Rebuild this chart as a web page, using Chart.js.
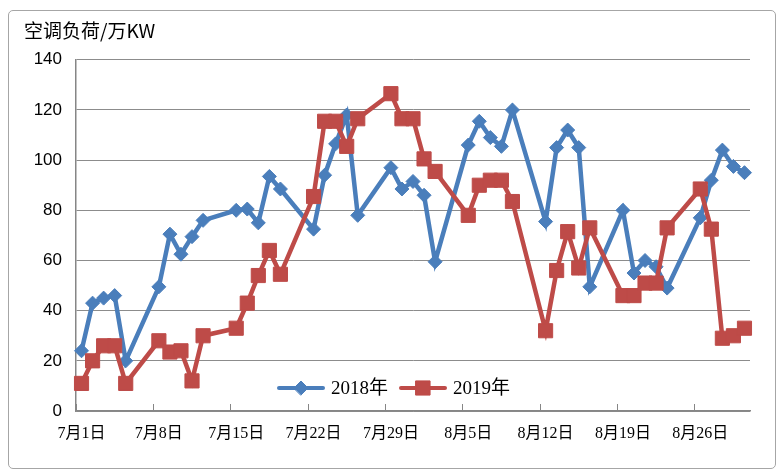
<!DOCTYPE html>
<html>
<head>
<meta charset="utf-8">
<script src="https://cdn.jsdelivr.net/npm/chart.js@4.4.1/dist/chart.umd.min.js"></script>
<style>
body { margin: 0; background: #fff; }
#box { position: absolute; left: 8px; top: 10px; width: 766px; height: 457px; border: 1px solid #a6a6a6; border-radius: 5px; }
</style>
</head>
<body>
<div id="box"><canvas id="loadChart"></canvas></div>
<script>
// 7月1日 .. 8月30日
const days = [];
for (let d = 1; d <= 31; d++) days.push('7月' + d + '日');
for (let d = 1; d <= 30; d++) days.push('8月' + d + '日');

// weekends have no reading (null)
const load2018 = [24, 43, 45, 46, 20, null, null,
    49.5, 70.5, 62.5, 69.5, 76, null, null,
    80, 80.5, 75, 93.5, 88.5, null, null,
    72.5, 94, 106.5, 118, 78, null, null,
    97, 88.5, 91.5, 86, 59.5, null, null,
    106, 115.5, 109, 105.5, 120, null, null,
    75.5, 105, 112, 105, 49.5, null, null,
    80, 55, 60, 57.5, 49, null, null,
    77, 92, 104, 97.5, 95];
const load2019 = [11, 20, 26, 26, 11, null, null,
    28, 23.5, 24, 12, 30, null, null,
    33, 43, 54, 64, 54.5, null, null,
    85.5, 115.5, 115.5, 105.5, 116.5, null, null,
    126.5, 116.5, 116.5, 100.5, 95.5, null, null,
    78, 90, 92, 92, 83.5, null, null,
    32, 56, 71.5, 57, 73, null, null,
    46, 46, 51, 51, 73, null, null,
    88.5, 72.5, 29, 30, 33];
const seriesNames = ['2018年', '2019年'];
const yMax = 140;
const yStep = 20;
const labelEvery = 7;

const blue = '#4a7ebb';
const red = '#be4b48';
const axisGray = '#868686';

// legend sits inside the plot, near the bottom
const legendInside = {
    id: 'legendInside',
    afterDraw(chart) {
        const ctx = chart.ctx;
        const area = chart.chartArea;
        let x = area.left + 203;
        const y = area.bottom - 23;
        ctx.save();
        ctx.font = '19px "Liberation Serif", "Noto Sans CJK SC"';
        ctx.textBaseline = 'middle';
        chart.data.datasets.forEach(ds => {
            ctx.strokeStyle = ds.borderColor;
            ctx.lineWidth = 4;
            ctx.lineCap = 'round';
            ctx.beginPath();
            ctx.moveTo(x, y);
            ctx.lineTo(x + 44, y);
            ctx.stroke();
            ctx.fillStyle = ds.pointBackgroundColor;
            ctx.strokeStyle = ds.pointBorderColor;
            ctx.lineWidth = 1;
            Chart.helpers.drawPoint(ctx, {pointStyle: ds.pointStyle, radius: ds.pointRadius, borderWidth: 1, rotation: 0}, x + 22, y);
            ctx.fillStyle = '#000';
            ctx.fillText(ds.label, x + 52, y + 1);
            x += 52 + ctx.measureText(ds.label).width + 13;
        });
        ctx.restore();
    }
};

const config = {
    type: 'line',
    data: {
        labels: days,
        datasets: [{
            label: seriesNames[0],
            data: load2018,
            borderColor: blue,
            borderWidth: 4.5,
            pointStyle: 'rectRot',
            pointRadius: 7,
            pointBackgroundColor: blue,
            pointBorderColor: blue,
            pointBorderWidth: 1,
            spanGaps: true,
            order: 1
        }, {
            label: seriesNames[1],
            data: load2019,
            borderColor: red,
            borderWidth: 4.5,
            pointStyle: 'rect',
            pointRadius: 10,
            pointBackgroundColor: red,
            pointBorderColor: red,
            pointBorderWidth: 1,
            spanGaps: true,
            order: 0
        }]
    },
    options: {
        responsive: true,
        maintainAspectRatio: false,
        animation: false,
        layout: { padding: { left: 15, right: 25, top: 0, bottom: 0 } },
        plugins: {
            legend: { display: false },
            tooltip: { enabled: false },
            title: {
                display: true,
                text: '空调负荷/万KW',
                align: 'start',
                color: '#000',
                font: { family: '"Noto Sans CJK SC"', size: 19, weight: 'normal' },
                padding: { top: 8, bottom: 18 }
            }
        },
        scales: {
            x: {
                offset: true,
                afterFit(scale) { scale.height = 57; },
                grid: {
                    offset: true,
                    drawOnChartArea: false,
                    drawTicks: true,
                    tickLength: -7,
                    tickWidth: 1,
                    tickColor: ctx => ctx.index % labelEvery === 0 ? axisGray : 'rgba(0,0,0,0)'
                },
                border: { color: axisGray, width: 1.5 },
                ticks: {
                    autoSkip: false,
                    maxRotation: 0,
                    padding: 20,
                    color: '#000',
                    font: { family: '"Liberation Serif", "Noto Sans CJK SC"', size: 16 },
                    callback: (val, i) => i % labelEvery === 0 ? days[i] : ''
                }
            },
            y: {
                min: 0,
                max: yMax,
                afterFit(scale) { scale.width = 52; },
                grid: { color: '#8c8c8c', lineWidth: 1, drawTicks: false },
                border: { color: axisGray, width: 1.5 },
                ticks: {
                    stepSize: yStep,
                    padding: 14,
                    color: '#000',
                    font: { family: '"Liberation Sans"', size: 17 }
                }
            }
        }
    },
    plugins: [legendInside]
};
const loadChart = new Chart(document.getElementById('loadChart'), config);
</script>
</body>
</html>
